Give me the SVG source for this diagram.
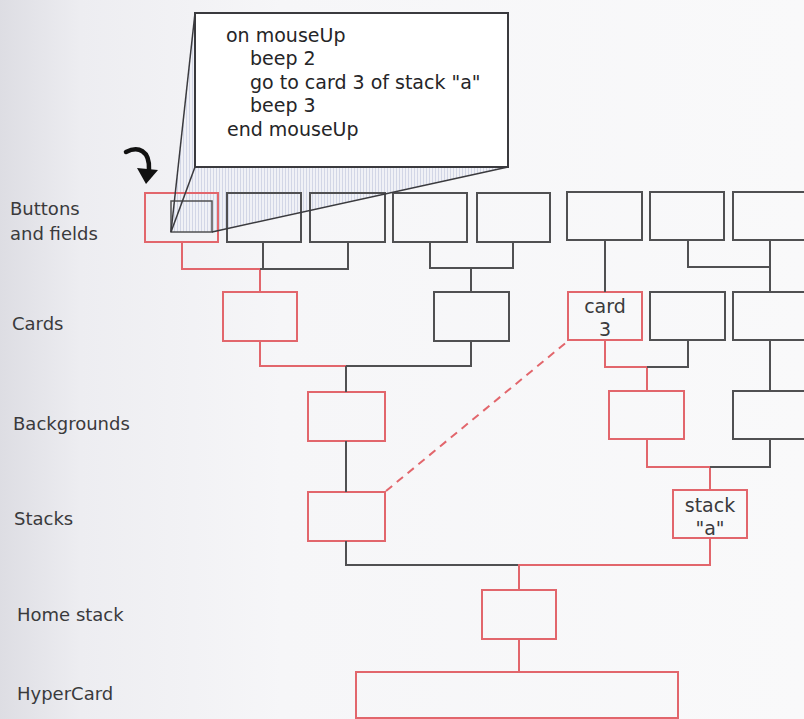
<svg xmlns="http://www.w3.org/2000/svg" width="804" height="719" viewBox="0 0 804 719">
<defs>
<linearGradient id="page" x1="0" y1="0" x2="1" y2="0">
<stop offset="0" stop-color="#dddde3"/>
<stop offset="0.1" stop-color="#ededf1"/>
<stop offset="0.35" stop-color="#f6f6f8"/>
<stop offset="1" stop-color="#f9f9fa"/>
</linearGradient>
<pattern id="hatch" width="3" height="10" patternUnits="userSpaceOnUse">
<rect width="3" height="10" fill="#f0f1f6"/>
<rect width="1" height="10" fill="#d2d6e6"/>
</pattern>
<style>
.g{fill:none;stroke:#505052;stroke-width:2}
.r{fill:none;stroke:#e2666c;stroke-width:2}
.lbl{font-family:"DejaVu Sans",sans-serif;font-size:18px;fill:#3a3a3c}
.code{font-family:"DejaVu Sans",sans-serif;font-size:19px;fill:#252527}
.bt{font-family:"DejaVu Sans",sans-serif;font-size:19px;fill:#3a3a3c;text-anchor:middle}
.pl{fill:none;stroke:#3a3a3e;stroke-width:1.5}
</style>
</defs>
<rect width="804" height="719" fill="url(#page)"/>

<g id="labels">
<text class="lbl" x="10" y="215">Buttons</text>
<text class="lbl" x="10" y="240">and fields</text>
<text class="lbl" x="12" y="330">Cards</text>
<text class="lbl" x="13" y="430">Backgrounds</text>
<text class="lbl" x="14" y="525">Stacks</text>
<text class="lbl" x="17" y="621">Home stack</text>
<text class="lbl" x="17" y="700">HyperCard</text>
</g>

<g id="projection">
<polygon points="171,232 195,13 195,167 508,167 212,232" fill="url(#hatch)"/>
</g>

<g id="buttons">
<rect id="btn1" class="r" x="145" y="193" width="73" height="49"/>
<rect id="btn1-inset" class="g" x="171" y="201" width="41" height="31" style="stroke-width:1.5"/>
<rect id="btn2" class="g" x="227" y="193" width="74" height="49"/>
<rect id="btn3" class="g" x="310" y="193" width="75" height="49"/>
<rect id="btn4" class="g" x="393" y="193" width="74" height="49"/>
<rect id="btn5" class="g" x="477" y="193" width="73" height="49"/>
<rect id="btn6" class="g" x="567" y="192" width="75" height="48"/>
<rect id="btn7" class="g" x="650" y="192" width="74" height="48"/>
<rect id="btn8" class="g" x="733" y="192" width="76" height="48"/>
</g>

<g id="cards">
<rect id="card1" class="r" x="223" y="292" width="74" height="49"/>
<rect id="card2" class="g" x="434" y="292" width="75" height="49"/>
<g id="card3">
<rect class="r" x="568" y="292" width="74" height="48"/>
<text class="bt" x="605" y="313">card</text>
<text class="bt" x="605" y="336">3</text>
</g>
<rect id="card4" class="g" x="650" y="292" width="75" height="48"/>
<rect id="card5" class="g" x="733" y="292" width="76" height="48"/>
</g>

<g id="backgrounds">
<rect id="bg1" class="r" x="308" y="392" width="77" height="49"/>
<rect id="bg2" class="r" x="609" y="391" width="75" height="48"/>
<rect id="bg3" class="g" x="733" y="391" width="76" height="48"/>
</g>

<g id="stacks">
<rect id="stack1" class="r" x="308" y="492" width="77" height="49"/>
<g id="stack-a">
<rect class="r" x="673" y="490" width="74" height="48"/>
<text class="bt" x="710" y="512">stack</text>
<text class="bt" x="710" y="535">"a"</text>
</g>
</g>

<g id="home"><rect class="r" x="482" y="590" width="74" height="49"/></g>
<g id="hypercard"><rect class="r" x="356" y="672" width="322" height="46"/></g>

<g id="connectors">
<polyline class="r" points="182,242 182,269 260,269 260,292"/>
<polyline class="g" points="263,242 263,269 348,269 348,242"/>
<line class="g" x1="260" y1="269" x2="263" y2="269"/>
<polyline class="g" points="430,242 430,268 513,268 513,242"/>
<line class="g" x1="471" y1="268" x2="471" y2="292"/>
<line class="g" x1="605" y1="240" x2="605" y2="292"/>
<polyline class="g" points="688,240 688,267 770,267"/>
<line class="g" x1="770" y1="240" x2="770" y2="292"/>

<polyline class="r" points="260,341 260,366 346,366"/>
<polyline class="g" points="346,366 471,366 471,341"/>
<line class="g" x1="346" y1="366" x2="346" y2="392"/>
<polyline class="r" points="605,340 605,367 647,367 647,391"/>
<polyline class="g" points="647,367 688,367 688,340"/>
<line class="g" x1="770" y1="340" x2="770" y2="391"/>

<line class="g" x1="346" y1="441" x2="346" y2="492"/>
<polyline class="r" points="647,439 647,467 710,467 710,490"/>
<polyline class="g" points="710,467 770,467 770,439"/>

<polyline class="g" points="346,541 346,565 519,565"/>
<polyline class="r" points="710,538 710,565 519,565 519,590"/>
<line class="r" x1="519" y1="639" x2="519" y2="672"/>

<line class="r" x1="386" y1="491" x2="568" y2="341" stroke-dasharray="8 6"/>
</g>

<g id="callout">
<line class="pl" x1="195" y1="13" x2="171" y2="232"/>
<line class="pl" x1="195" y1="167" x2="171" y2="232"/>
<line class="pl" x1="508" y1="167" x2="212" y2="232"/>
<rect x="195" y="13" width="313" height="154" fill="#ffffff" stroke="#3a3a3e" stroke-width="2"/>
<text class="code" x="226" y="42">on mouseUp</text>
<text class="code" x="250" y="65">beep 2</text>
<text class="code" x="250" y="89">go to card 3 of stack "a"</text>
<text class="code" x="250" y="112">beep 3</text>
<text class="code" x="227" y="136">end mouseUp</text>
</g>

<g id="arrow">
<path d="M126,152 C138,146 150,150 149,170" fill="none" stroke="#111" stroke-width="4.5" stroke-linecap="round"/>
<polygon points="137,168 158,170 146,184" fill="#111"/>
</g>
</svg>
